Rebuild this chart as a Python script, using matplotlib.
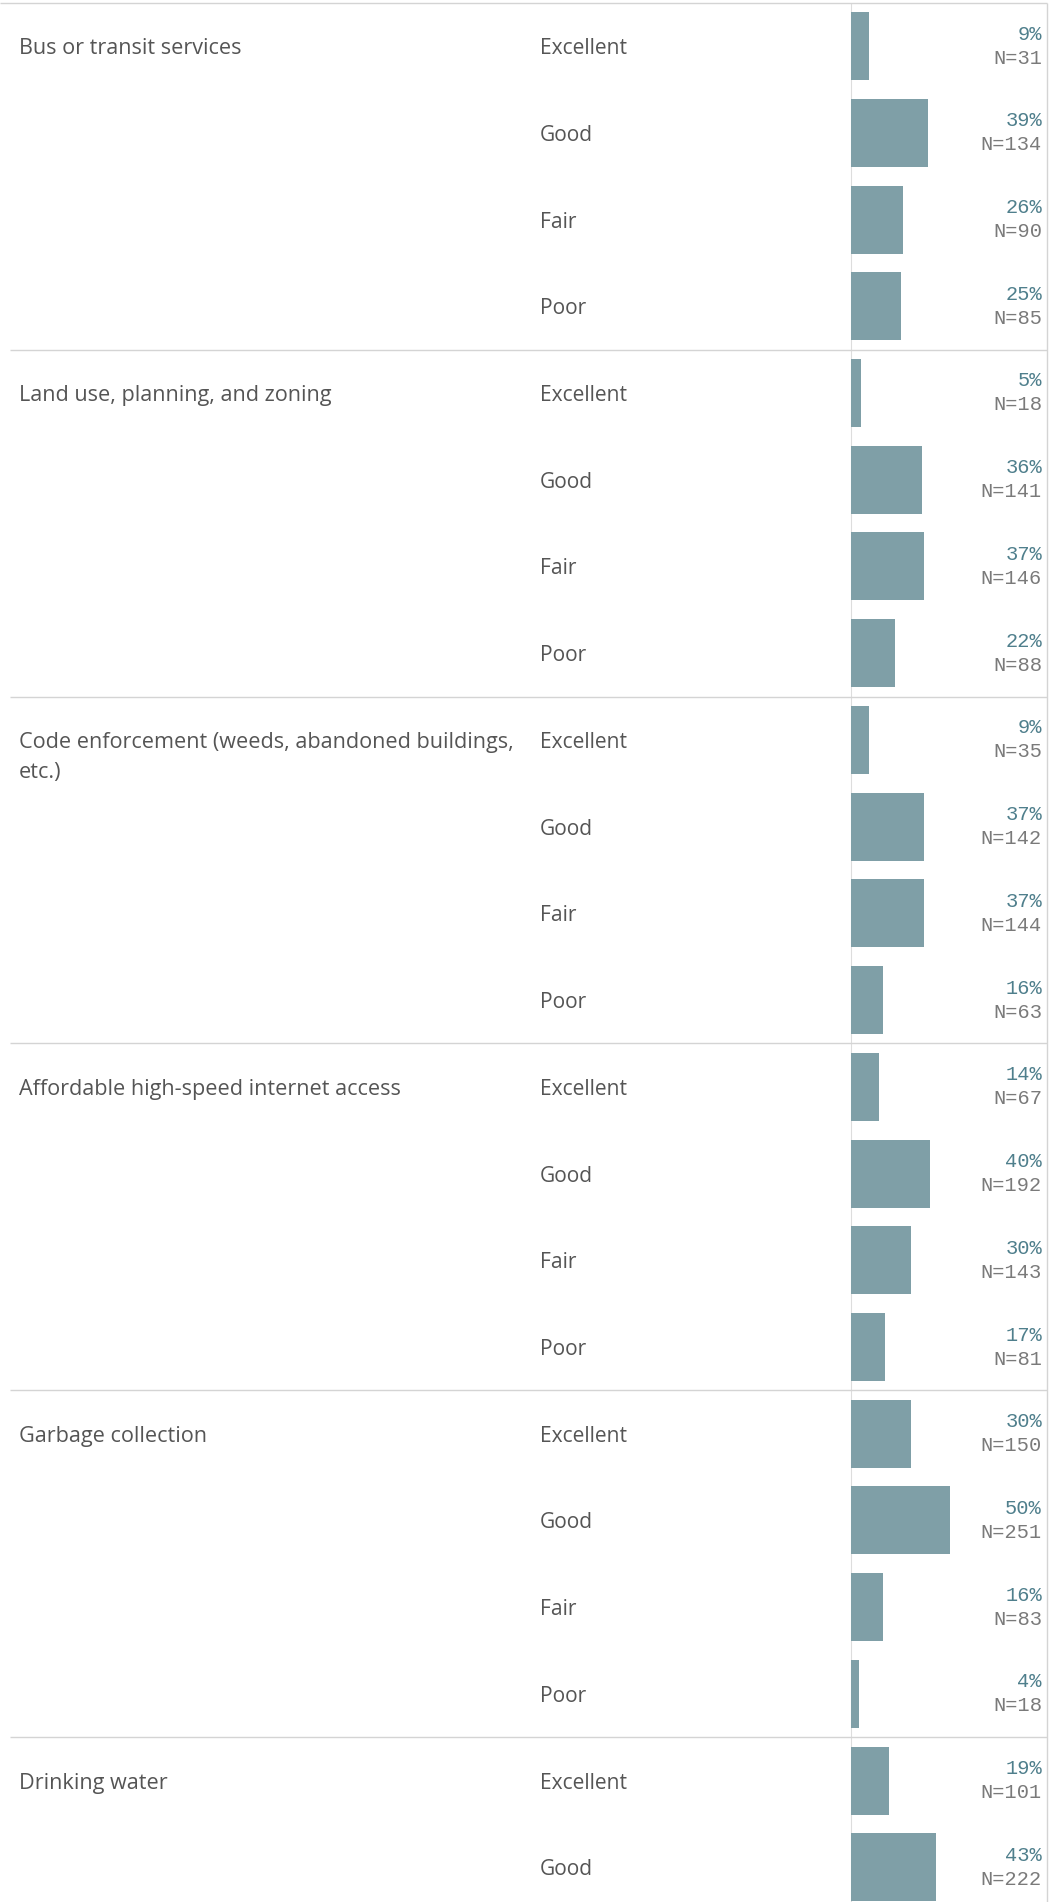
import matplotlib
matplotlib.use('Agg')
import matplotlib.pyplot as plt

# --- data ---
categories = [
    "Bus or transit services",
    "Land use, planning, and zoning",
    "Code enforcement (weeds, abandoned buildings,\netc.)",
    "Affordable high-speed internet access",
    "Garbage collection",
    "Drinking water",
]
ratings = ["Excellent", "Good", "Fair", "Poor"]

bus_pct = [9, 39, 26, 25]
bus_n = [31, 134, 90, 85]
land_pct = [5, 36, 37, 22]
land_n = [18, 141, 146, 88]
code_pct = [9, 37, 37, 16]
code_n = [35, 142, 144, 63]
internet_pct = [14, 40, 30, 17]
internet_n = [67, 192, 143, 81]
garbage_pct = [30, 50, 16, 4]
garbage_n = [150, 251, 83, 18]
water_pct = [19, 43]          # rest of the group is cut off in the picture
water_n = [101, 222]

pcts = [bus_pct, land_pct, code_pct, internet_pct, garbage_pct, water_pct]
ns = [bus_n, land_n, code_n, internet_n, garbage_n, water_n]

# --- layout (pixels of a 1055x1902 canvas) ---
W, H = 1055, 1902
ROW = 86.73          # row pitch
TOP = 2.7            # top border
AXIS_X = 851.3       # bar baseline
RIGHT_X = 1047.3     # right border
PX_PER_PCT = 1.975
LINE_PITCH = 30.3    # wrapped label line pitch

BAR_COLOR = '#7f9fa7'
PCT_COLOR = '#4f7f8c'
N_COLOR = '#7a7a7a'
LABEL_COLOR = '#555555'
LINE_COLOR = '#d4d4d4'
LABEL_FONT = 'Open Sans'

y_bottom = (H - TOP) / ROW
y_top = -TOP / ROW

fig = plt.figure(figsize=(W / 100, H / 100), dpi=100)
ax = fig.add_axes([0, 0, 1, 1])
ax.set_xlim(0, W)
ax.set_ylim(y_bottom, y_top)
ax.axis('off')

bx = fig.add_axes([AXIS_X / W, 0, (RIGHT_X - AXIS_X) / W, 1])
bx.set_xlim(0, (RIGHT_X - AXIS_X) / PX_PER_PCT)
bx.set_ylim(y_bottom, y_top)
bx.axis('off')
bx.patch.set_alpha(0)

row = 0
for g, (cat, pct, n) in enumerate(zip(categories, pcts, ns)):
    for k, line in enumerate(cat.split("\n")):
        ax.text(19, row + 0.5 + k * LINE_PITCH / ROW, line, ha='left',
                va='center_baseline', fontsize=15.6, family=LABEL_FONT,
                color=LABEL_COLOR)
    ys = [row + i + 0.5 for i in range(len(pct))]
    bx.barh(ys, pct, height=68 / ROW, color=BAR_COLOR, left=0)
    for i, (p, c) in enumerate(zip(pct, n)):
        y = row + i + 0.5
        ax.text(540, y, ratings[i], ha='left', va='center_baseline',
                fontsize=15.1, family=LABEL_FONT, color=LABEL_COLOR)
        ax.text(1042, y - 12 / ROW, f"{p}%", ha='right', va='center',
                fontsize=14.7, family='Liberation Mono', color=PCT_COLOR)
        ax.text(1042, y + 12 / ROW, f"N={c}", ha='right', va='center',
                fontsize=14.7, family='Liberation Mono', color=N_COLOR)
    row += 4

# grid lines
ax.hlines(0, 0, RIGHT_X, color=LINE_COLOR, lw=1.0)
ax.hlines([4 * g for g in range(1, len(categories))], 9.7, RIGHT_X,
          color=LINE_COLOR, lw=1.0)
ax.vlines(RIGHT_X, 0, y_bottom, color=LINE_COLOR, lw=1.0)
ax.vlines(AXIS_X, 0, y_bottom, color='#dddddd', lw=0.8, zorder=0)

fig.savefig('out.png', dpi=100, facecolor='white')
